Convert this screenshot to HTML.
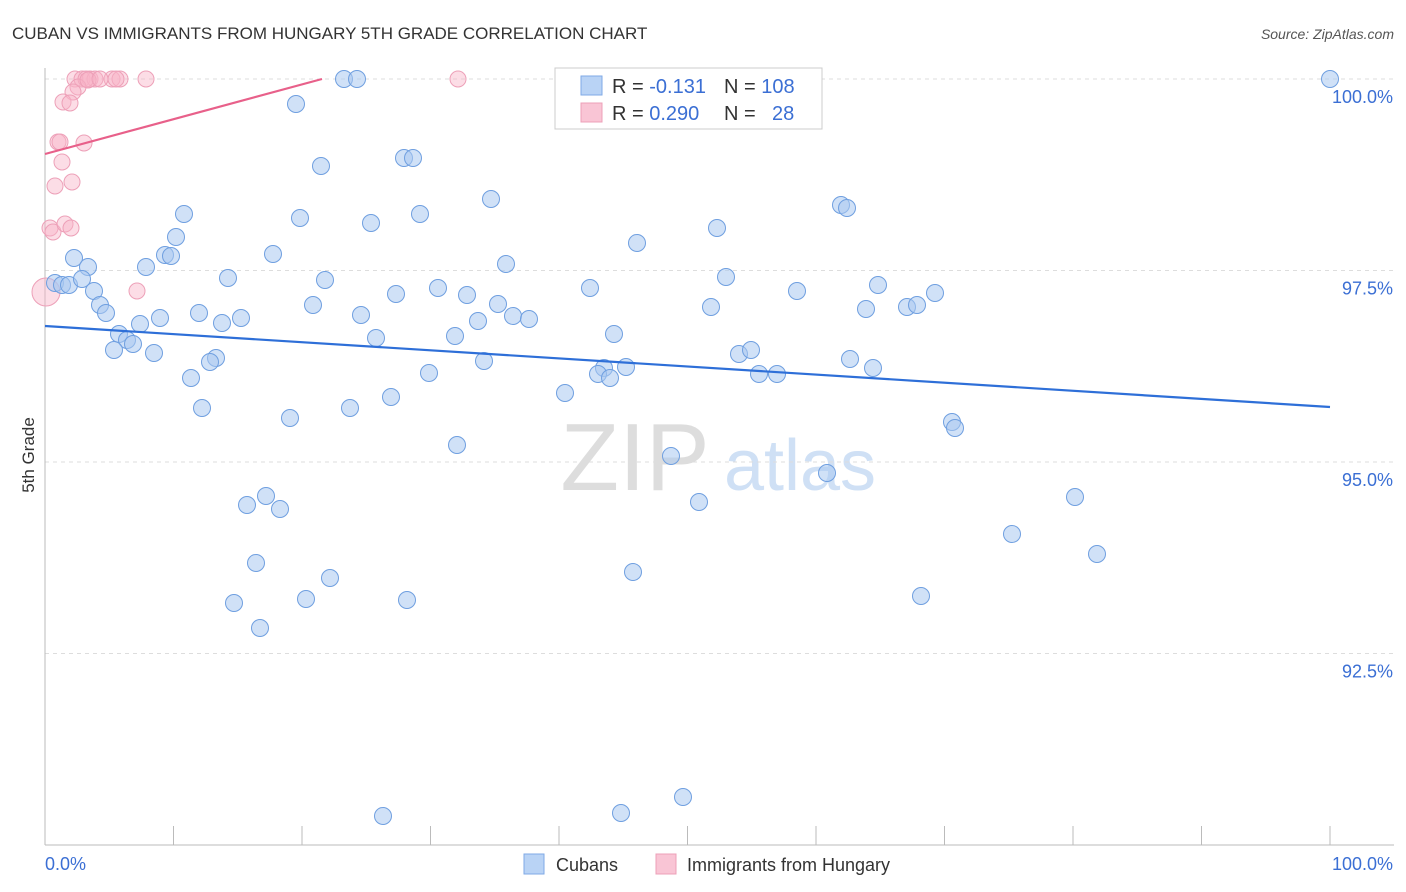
<!DOCTYPE html>
<html><head><meta charset="utf-8"><style>
body{margin:0;background:#fff;font-family:"Liberation Sans",sans-serif;}
#wrap{position:relative;width:1406px;height:892px;overflow:hidden;}
svg text{font-family:"Liberation Sans",sans-serif;}
</style></head><body>
<div id="wrap">
<svg id="chart" width="1406" height="892">
<text x="12" y="39" font-size="17" fill="#333">CUBAN VS IMMIGRANTS FROM HUNGARY 5TH GRADE CORRELATION CHART</text>
<text x="1394" y="39" font-size="14" fill="#555" text-anchor="end" font-style="italic">Source: ZipAtlas.com</text>
<text x="34" y="455" font-size="17" fill="#333" text-anchor="middle" transform="rotate(-90 34 455)">5th Grade</text>
<g><text x="635" y="490" font-size="96" fill="#ddd" text-anchor="middle" font-family="Liberation Serif">ZIP</text><text x="800" y="490" font-size="72" fill="#cfe0f5" text-anchor="middle">atlas</text></g>
<g id="grid"></g><g id="marks"></g>
<g>
<rect x="555" y="68" width="267" height="61" fill="#fff" stroke="#ccc"/>
<rect x="581" y="76" width="21" height="19" fill="#b9d3f5" stroke="#7fa9e6"/>
<rect x="581" y="103" width="21" height="19" fill="#f9c5d5" stroke="#eda0b8"/>
<text x="612" y="93" font-size="20" fill="#333">R = <tspan fill="#3b6fd4">-0.131</tspan></text>
<text x="724" y="93" font-size="20" fill="#333">N = <tspan fill="#3b6fd4">108</tspan></text>
<text x="612" y="120" font-size="20" fill="#333">R = <tspan fill="#3b6fd4">0.290</tspan></text>
<text x="724" y="120" font-size="20" fill="#333">N =</text>
<text x="772" y="120" font-size="20" fill="#3b6fd4">28</text>
</g>
<g>
<rect x="524" y="854" width="20" height="20" fill="#b9d3f5" stroke="#7fa9e6"/>
<text x="556" y="871" font-size="18" fill="#333">Cubans</text>
<rect x="656" y="854" width="20" height="20" fill="#f9c5d5" stroke="#eda0b8"/>
<text x="687" y="871" font-size="18" fill="#333">Immigrants from Hungary</text>
</g>
</svg>
</div>
<script>
const yTicks=[100,97.5,95,92.5];
const yTickLabels=["100.0%","97.5%","95.0%","92.5%"];
const xTickLabels=["0.0%","100.0%"];
const X0=45,X1=1330,Y100=79,PXPCT=76.6;
const cubanPy=[79,79,79,104,166,158,158,199,214,218,214,223,205,208,228,243,237,255,256,254,258,267,267,264,283,285,285,279,291,278,280,277,285,288,288,295,294,291,293,305,313,305,304,307,309,307,305,313,318,318,316,319,315,321,323,324,334,334,340,344,338,336,350,353,354,350,359,358,362,361,368,367,368,374,378,374,374,373,378,393,397,408,408,418,422,428,445,456,473,502,497,496,505,509,534,554,563,572,578,603,599,600,596,628,797,816,813];
const cubanPx=[1330,344,357,296,321,404,413,491,184,300,420,371,841,847,717,637,176,165,171,273,74,88,146,506,55,62,69,82,94,228,325,726,878,590,438,467,396,797,935,100,106,313,498,711,866,907,917,199,160,241,513,529,361,478,222,140,614,119,127,133,376,455,114,154,739,751,850,216,210,484,604,626,873,598,610,759,777,429,191,565,391,202,350,290,952,955,457,671,827,699,1075,266,247,280,1012,1097,256,633,330,234,306,407,921,260,683,383,621];
const hungPx=[75,82,90,95,112,120,146,458,86,116,78,73,63,70,58,84,62,55,72,50,53,65,71,137,46,88,100,60];
const hungPy=[79,79,79,79,79,79,79,79,79,79,87,92,102,103,142,143,162,186,182,228,232,224,228,291,292,80,79,142];
const xs=v=>X0+(v/100)*(X1-X0);
const ys=v=>Y100+(100-v)*PXPCT;
const toX=px=>(px-X0)/(X1-X0)*100, toY=py=>100-(py-Y100)/PXPCT;
const cubX=cubanPx.map(toX), cubY=cubanPy.map(toY);
const hunX=hungPx.map(toX), hunY=hungPy.map(toY);
const trendCuban=[toY(326),toY(407)];
const trendHung=[toY(154),toY(79)];
const NS="http://www.w3.org/2000/svg";
const grid=document.getElementById('grid'), marks=document.getElementById('marks');
function mk(tag,at,parent){const e=document.createElementNS(NS,tag);for(const k in at)e.setAttribute(k,at[k]);parent.appendChild(e);return e;}
yTicks.forEach((t,i)=>{
 const l=mk('line',{x1:45,x2:1394,y1:ys(t),y2:ys(t),stroke:'#ddd','stroke-dasharray':'4,4'},grid);
 
 
 const tx=mk('text',{x:1393,y:ys(t)+24,'font-size':18,fill:'#3b6fd4','text-anchor':'end'},grid);
 tx.textContent=yTickLabels[i];
 
 
});
const ax=mk('line',{x1:45,x2:45,y1:68,y2:845,stroke:'#bbb'},grid);


const bx=mk('line',{x1:45,x2:1394,y1:845,y2:845,stroke:'#bbb'},grid);


for(let i=0;i<=10;i++){const x=45+i*128.5;const t=mk('line',{x1:x,x2:x,y1:826,y2:845,stroke:'#bbb'},grid);
 
 }
[[0,45,'start'],[100,1393,'end']].forEach((d,i)=>{const t=mk('text',{x:d[1],y:870,'font-size':18,fill:'#3b6fd4','text-anchor':d[2]},grid);t.textContent=xTickLabels[i];
 
 });
hunX.forEach((x,i)=>{const c=mk('circle',{cx:xs(x),cy:ys(hunY[i]),r:i==24?14:8,fill:'rgba(249,180,200,0.45)',stroke:'#eda0b8','stroke-width':1},marks);
 
 });
cubX.forEach((x,i)=>{const c=mk('circle',{cx:xs(x),cy:ys(cubY[i]),r:8.5,fill:'rgba(170,200,240,0.55)',stroke:'#6f9fe0','stroke-width':1},marks);
 
 });
const tb=mk('line',{x1:xs(0),y1:ys(trendCuban[0]),x2:xs(100),y2:ys(trendCuban[1]),stroke:'#2e6fd8','stroke-width':2.2},marks);


const tp=mk('line',{x1:xs(0),y1:ys(trendHung[0]),x2:322,y2:ys(trendHung[1]),stroke:'#e8608a','stroke-width':2.2},marks);


</script>
</body></html>
